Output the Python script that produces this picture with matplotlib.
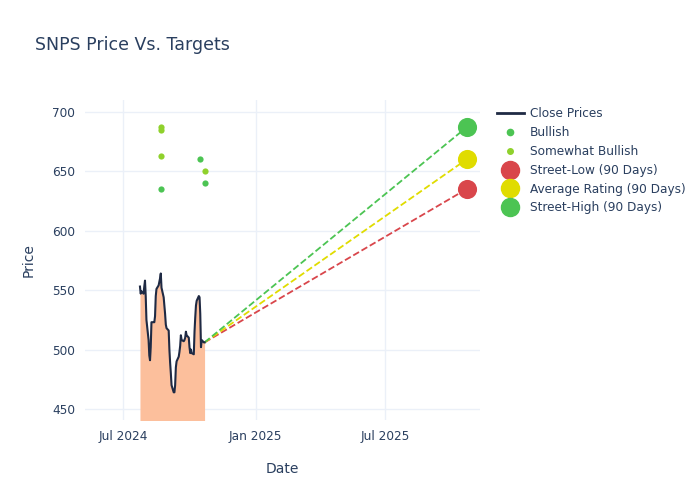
import numpy as np
import pandas as pd
import matplotlib
matplotlib.use('Agg')
import matplotlib.pyplot as plt
import matplotlib.dates as mdates
from matplotlib.lines import Line2D

# Close prices, business days from 2024-07-24 to 2024-10-22
close_start = '2024-07-24'
close_prices = [
    553, 547, 549, 547, 553, 558, 545, 525, 508, 495,
    491, 502, 523, 523, 523, 528, 545, 551, 554, 557,
    560, 564, 552, 544, 537, 530, 521, 518, 516, 500,
    489, 480, 470, 464, 464, 470, 485, 490, 494, 498,
    503, 512, 508, 507, 508, 510, 515, 512, 510, 502,
    497, 500, 497, 496, 515, 527, 537, 541, 545, 544,
    530, 502, 508, 506, 506,
]

# Analyst ratings
bullish_dates = ['2024-08-22', '2024-10-15', '2024-10-22']
bullish_prices = [635, 660, 640]
somewhat_dates = ['2024-08-22', '2024-08-22', '2024-08-22', '2024-10-22']
somewhat_prices = [687, 685, 663, 650]

# 90-day targets
last_date = '2024-10-22'
target_date = '2025-10-22'
street_low = 635
avg_rating = 660
street_high = 687

text_color = '#2a3f5f'
grid_color = '#ebf0f8'

plt.rcParams.update({
    'font.family': 'DejaVu Sans',
    'font.size': 8.7,
    'text.color': text_color,
    'axes.labelcolor': text_color,
    'xtick.color': text_color,
    'ytick.color': text_color,
})

fig = plt.figure(figsize=(7, 5), dpi=100)
ax = fig.add_axes([0.121, 0.16, 0.565, 0.64])

dates = pd.bdate_range(close_start, periods=len(close_prices))
last_close = close_prices[-1]

ax.fill_between(dates, close_prices, 400, color='#fcbf9c', linewidth=0, zorder=1)
ax.plot(dates, close_prices, color='#1f2a44', linewidth=1.5, zorder=3)

t0 = pd.Timestamp(last_date)
t1 = pd.Timestamp(target_date)
ax.plot([t0, t1], [last_close, street_low], '--', color='#d9464b', linewidth=1.3, zorder=2)
ax.plot([t0, t1], [last_close, avg_rating], '--', color='#e0dc00', linewidth=1.3, zorder=2)
ax.plot([t0, t1], [last_close, street_high], '--', color='#4cc453', linewidth=1.3, zorder=2)

ax.scatter(pd.to_datetime(bullish_dates), bullish_prices, s=20, color='#4cc453', zorder=4, linewidths=0)
ax.scatter(pd.to_datetime(somewhat_dates), somewhat_prices, s=20, color='#8fd12c', zorder=4, linewidths=0)

ax.scatter([t1], [street_low], s=190, color='#d9464b', zorder=5, linewidths=0)
ax.scatter([t1], [avg_rating], s=190, color='#e0dc00', zorder=5, linewidths=0)
ax.scatter([t1], [street_high], s=190, color='#4cc453', zorder=5, linewidths=0)

ax.set_xlim(pd.Timestamp('2024-05-08'), pd.Timestamp('2025-11-10'))
ax.set_ylim(440.7, 710)
ax.set_yticks([450, 500, 550, 600, 650, 700])
ax.xaxis.set_major_locator(mdates.MonthLocator(bymonth=[1, 7]))
ax.xaxis.set_major_formatter(mdates.DateFormatter('%b %Y'))

for s in ax.spines.values():
    s.set_visible(False)
ax.tick_params(length=0, pad=7)
ax.grid(True, color=grid_color, linewidth=1)
ax.set_axisbelow(True)

ax.set_xlabel('Date', fontsize=10, labelpad=14)
ax.set_ylabel('Price', fontsize=10, labelpad=12)

fig.text(0.05, 0.91, 'SNPS Price Vs. Targets', fontsize=12.5, color=text_color, va='center')

handles = [
    Line2D([], [], color='#1f2a44', linewidth=2),
    Line2D([], [], marker='o', linestyle='', color='#4cc453', markersize=4.5),
    Line2D([], [], marker='o', linestyle='', color='#8fd12c', markersize=4),
    Line2D([], [], marker='o', linestyle='', color='#d9464b', markersize=13),
    Line2D([], [], marker='o', linestyle='', color='#e0dc00', markersize=13),
    Line2D([], [], marker='o', linestyle='', color='#4cc453', markersize=13),
]
labels = ['Close Prices', 'Bullish', 'Somewhat Bullish', 'Street-Low (90 Days)',
          'Average Rating (90 Days)', 'Street-High (90 Days)']
fig.legend(handles, labels, loc='upper left', bbox_to_anchor=(0.703, 0.795),
           frameon=False, fontsize=8.7, handlelength=2.2, labelspacing=0.48,
           handletextpad=0.55, borderaxespad=0)

fig.savefig('out.png', dpi=100)
